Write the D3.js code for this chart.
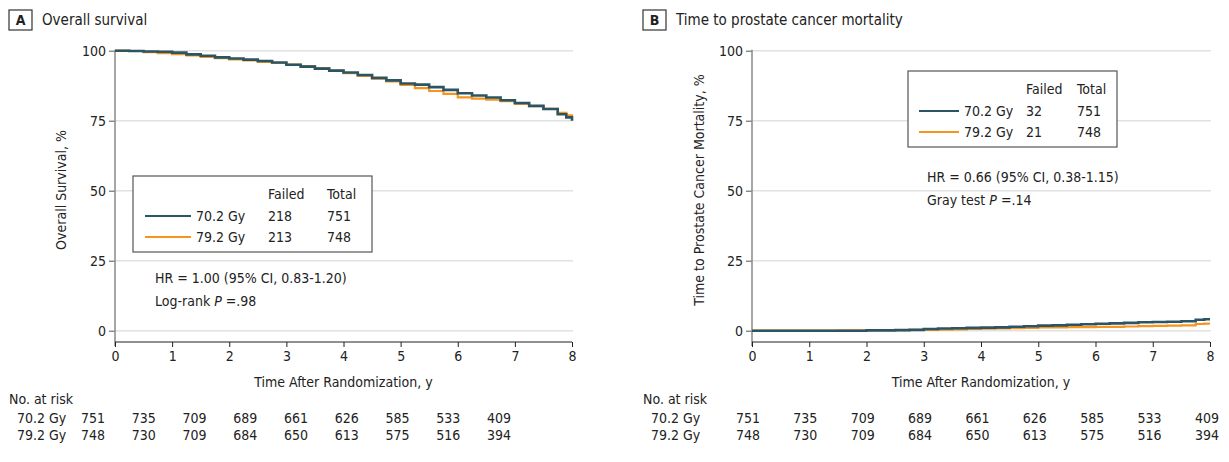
<!DOCTYPE html>
<html lang="en">
<head>
<meta charset="UTF-8">
<title>survival</title>
<script src="https://cdn.jsdelivr.net/npm/d3@7"></script>
<style>
  body { margin: 0; background: #fff; }
  text { font-family: "DejaVu Sans Condensed", "Noto Sans", sans-serif; fill: #222; }
</style>
</head>
<body>
<svg id="chart" width="1229" height="462" xmlns="http://www.w3.org/2000/svg"></svg>
<script>
// 时间点 (年)
const times = [0, 0.25, 0.5, 0.75, 1, 1.25, 1.5, 1.75, 2, 2.25, 2.5, 2.75, 3, 3.25, 3.5, 3.75,
  4, 4.25, 4.5, 4.75, 5, 5.25, 5.5, 5.75, 6, 6.25, 6.5, 6.75, 7, 7.25, 7.5, 7.75, 7.9, 8];
// A: overall survival, %
const os702 = [100, 99.9, 99.7, 99.6, 99.3, 98.7, 98.2, 97.6, 97.2, 96.8, 96.3, 95.8, 95.0, 94.3, 93.6, 92.9,
  92.2, 91.3, 90.3, 89.4, 88.3, 87.9, 87.0, 86.0, 84.8, 84.0, 83.3, 82.3, 81.3, 80.3, 79.2, 77.3, 76.2, 75.0];
const os792 = [100, 99.9, 99.5, 99.1, 98.8, 98.3, 97.8, 97.3, 96.9, 96.5, 96.0, 95.6, 95.0, 94.5, 93.8, 92.9,
  92.0, 91.0, 90.0, 89.0, 87.8, 86.6, 85.6, 84.6, 83.3, 82.9, 82.5, 82.0, 81.0, 80.2, 79.2, 77.8, 76.9, 76.4];
// B: prostate cancer mortality, %
const pcm702 = [0, 0, 0, 0, 0, 0, 0, 0, 0.1, 0.1, 0.2, 0.3, 0.6, 0.8, 0.9, 1.0,
  1.1, 1.2, 1.4, 1.6, 1.8, 1.9, 2.1, 2.3, 2.5, 2.6, 2.8, 3.0, 3.1, 3.2, 3.4, 3.9, 4.1, 4.1];
const pcm792 = [0, 0, 0, 0, 0, 0, 0.1, 0.1, 0.2, 0.2, 0.2, 0.3, 0.3, 0.4, 0.5, 0.6,
  0.7, 0.8, 0.9, 1.0, 1.2, 1.2, 1.3, 1.3, 1.4, 1.4, 1.5, 1.6, 1.7, 1.8, 1.9, 2.4, 2.5, 2.5];

const xTicks = [0, 1, 2, 3, 4, 5, 6, 7, 8];
const yTicks = [0, 25, 50, 75, 100];
const arms = ["70.2 Gy", "79.2 Gy"];
const colors = ["#2b5565", "#f7941d"];
const riskA702 = [751, 735, 709, 689, 661, 626, 585, 533, 409];
const riskA792 = [748, 730, 709, 684, 650, 613, 575, 516, 394];
const riskB702 = [751, 735, 709, 689, 661, 626, 585, 533, 409];
const riskB792 = [748, 730, 709, 684, 650, 613, 575, 516, 394];

const svg = d3.select("#chart");

function panel(o) {
  const g = svg.append("g");
  const x = d3.scaleLinear().domain([0, 8]).range([o.x0, o.x1]);
  const y = d3.scaleLinear().domain([0, 100]).range([330.7, 50.7]);
  const axisY = 342;

  // 标题
  g.append("rect").attr("x", o.bx).attr("y", 10).attr("width", 23).attr("height", 20)
    .attr("fill", "none").attr("stroke", "#333").attr("stroke-width", 1.2);
  g.append("text").attr("x", o.bx + 11.5).attr("y", 25).attr("text-anchor", "middle")
    .style("font-weight", "bold").style("font-size", "14px").text(o.letter);
  g.append("text").attr("x", o.bx + 33).attr("y", 25).style("font-size", "15px").text(o.title);

  // 网格
  g.selectAll(".grid").data(yTicks).join("line")
    .attr("x1", o.x0).attr("x2", o.x1 + 1)
    .attr("y1", d => y(d)).attr("y2", d => y(d))
    .attr("stroke", "#e2e2e2").attr("stroke-width", 1.5);

  // y 轴
  const ya = g.append("g").attr("transform", `translate(${o.x0},0)`)
    .call(d3.axisLeft(y).tickValues(yTicks).tickSize(6).tickPadding(3));
  ya.select(".domain").remove();
  ya.selectAll(".tick line").attr("stroke", "#555");
  ya.selectAll(".tick text").style("font-size", "14px").attr("fill", "#222");
  g.append("line").attr("x1", o.x0).attr("x2", o.x0).attr("y1", y(100) - 1).attr("y2", axisY + 4)
    .attr("stroke", "#888").attr("stroke-width", 1.5);

  // x 轴
  const xa = g.append("g").attr("transform", `translate(0,${axisY})`)
    .call(d3.axisBottom(x).tickValues(xTicks).tickSize(5).tickPadding(4));
  xa.select(".domain").attr("d", `M${o.x0},0H${o.x1}`).attr("stroke", "#222").attr("stroke-width", 1.2);
  xa.selectAll(".tick line").attr("stroke", "#222");
  xa.selectAll(".tick text").style("font-size", "14px").attr("fill", "#222");

  g.append("text").attr("x", (o.x0 + o.x1) / 2).attr("y", 387).attr("text-anchor", "middle")
    .style("font-size", "14px").text("Time After Randomization, y");
  g.append("text").attr("transform", `translate(${o.ytx},190) rotate(-90)`)
    .attr("text-anchor", "middle").style("font-size", "14px").text(o.ytitle);

  // 曲线
  const line = d3.line().curve(d3.curveStepAfter).x((d, i) => x(times[i])).y(d => y(d));
  [o.s792, o.s702].forEach((s, k) => {
    g.append("path").datum(s).attr("d", line).attr("fill", "none")
      .attr("stroke", k === 0 ? colors[1] : colors[0]).attr("stroke-width", k === 0 ? 2.2 : 2.6);
  });

  // 图例
  const L = o.leg;
  g.append("rect").attr("x", L.x).attr("y", L.y).attr("width", L.w).attr("height", 76)
    .attr("fill", "#fff").attr("stroke", "#555").attr("stroke-width", 1.2);
  g.append("text").attr("x", L.c1).attr("y", L.y + 23).style("font-size", "14px").text("Failed");
  g.append("text").attr("x", L.c2).attr("y", L.y + 23).style("font-size", "14px").text("Total");
  arms.forEach((a, i) => {
    const ry = L.y + 40 + i * 21;
    g.append("line").attr("x1", L.l0).attr("x2", L.l1).attr("y1", ry).attr("y2", ry)
      .attr("stroke", colors[i]).attr("stroke-width", 2.2);
    g.append("text").attr("x", L.l1 + 5).attr("y", ry + 5).style("font-size", "14px").text(a);
    g.append("text").attr("x", L.c1).attr("y", ry + 5).style("font-size", "14px").text(o.failed[i]);
    g.append("text").attr("x", L.c2).attr("y", ry + 5).style("font-size", "14px").text(o.total[i]);
  });
  g.append("text").attr("x", o.hr.x).attr("y", o.hr.y).style("font-size", "14px").text(o.hr.t1);
  const t2 = g.append("text").attr("x", o.hr.x).attr("y", o.hr.y + 23).style("font-size", "14px");
  t2.append("tspan").text(o.hr.t2a);
  t2.append("tspan").style("font-style", "italic").text("P");
  t2.append("tspan").text(" =" + o.hr.p);

  // 风险表
  const rx = d3.scaleLinear().domain([0, 8]).range(o.riskRange);
  g.append("text").attr("x", o.bx).attr("y", 404).style("font-size", "14px").text("No. at risk");
  [o.r702, o.r792].forEach((r, i) => {
    const yy = 423 + i * 17;
    g.append("text").attr("x", o.bx + 8).attr("y", yy).style("font-size", "14px").text(arms[i]);
    g.selectAll(null).data(r).join("text")
      .attr("x", (d, j) => rx(xTicks[j])).attr("y", yy).attr("text-anchor", "middle")
      .style("font-size", "14px").text(d => d);
  });
}

panel({
  letter: "A", title: "Overall survival", bx: 9, x0: 115, x1: 572, ytx: 66,
  ytitle: "Overall Survival, %", s702: os702, s792: os792,
  leg: { x: 133, y: 176, w: 239, c1: 268, c2: 327, l0: 145, l1: 191 },
  failed: [218, 213], total: [751, 748],
  hr: { x: 155, y: 283, t1: "HR = 1.00 (95% CI, 0.83-1.20)", t2a: "Log-rank ", p: ".98" },
  r702: riskA702, r792: riskA792, riskRange: [93, 499]
});

panel({
  letter: "B", title: "Time to prostate cancer mortality", bx: 643, x0: 752, x1: 1210, ytx: 704,
  ytitle: "Time to Prostate Cancer Mortality, %", s702: pcm702, s792: pcm792,
  leg: { x: 908, y: 71, w: 209, c1: 1026, c2: 1077, l0: 919, l1: 959 },
  failed: [32, 21], total: [751, 748],
  hr: { x: 927, y: 182, t1: "HR = 0.66 (95% CI, 0.38-1.15)", t2a: "Gray test ", p: ".14" },
  r702: riskB702, r792: riskB792, riskRange: [748, 1207]
});
</script>
</body>
</html>
